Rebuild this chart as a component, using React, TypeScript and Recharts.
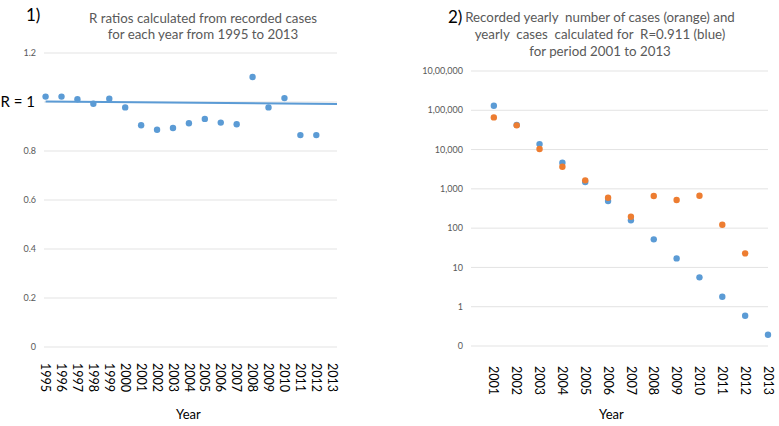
import React from 'react';
import {
  ScatterChart,
  Scatter,
  XAxis,
  YAxis,
  CartesianGrid,
} from 'recharts';

// panel 1: R ratios per year
const rYears = [1995, 1996, 1997, 1998, 1999, 2000, 2001, 2002, 2003, 2004, 2005, 2006, 2007, 2008, 2009, 2010, 2011, 2012];
const rValues = [1.022, 1.022, 1.011, 0.993, 1.013, 0.978, 0.905, 0.887, 0.894, 0.913, 0.931, 0.916, 0.909, 1.102, 0.978, 1.016, 0.865, 0.865];
const rLineYears = [1995, 2013.3];
const rLineValues = [1.002, 0.992];
const rTickYears = [1995, 1996, 1997, 1998, 1999, 2000, 2001, 2002, 2003, 2004, 2005, 2006, 2007, 2008, 2009, 2010, 2011, 2012, 2013];
const rTicks = [0, 0.2, 0.4, 0.6, 0.8, 1, 1.2];

// panel 2: yearly cases (log scale)
const caseYears = [2001, 2002, 2003, 2004, 2005, 2006, 2007, 2008, 2009, 2010, 2011, 2012, 2013];
const calculated = [130000, 42500, 13800, 4620, 1490, 490, 158, 51.8, 17.0, 5.59, 1.8, 0.59, 0.194];
const recorded = [65900, 41300, 10300, 3650, 1645, 594, 195, 656, 519, 668, 122, 22.8];
const caseTicks = [0.1, 1, 10, 100, 1000, 10000, 100000, 1000000];

const BLUE = '#5b9bd5';
const ORANGE = '#ed7d31';
const GREY = '#595959';
const FONT = 'Lato, "Open Sans", sans-serif';

const rData = rYears.map((year, i) => ({ year, r: rValues[i] }));
const rLine = rLineYears.map((year, i) => ({ year, r: rLineValues[i] }));
const calcData = caseYears.map((year, i) => ({ year, n: calculated[i] }));
const recData = recorded.map((n, i) => ({ year: caseYears[i], n }));

function indian(v: number) {
  if (v < 1) return '0';
  const s = String(Math.round(v));
  if (s.length <= 3) return s;
  const last = s.slice(-3);
  let rest = s.slice(0, -3);
  const parts: string[] = [];
  while (rest.length > 2) {
    parts.unshift(rest.slice(-2));
    rest = rest.slice(0, -2);
  }
  if (rest) parts.unshift(rest);
  return parts.join(',') + ',' + last;
}

const dot = (color: string) => (p: any) => (
  <circle cx={p.cx} cy={p.cy} r={3.2} fill={color} />
);

const YearTick = ({ x, y, payload }: any) => (
  <text
    x={x}
    y={y}
    dy="0.35em"
    transform={`rotate(90, ${x}, ${y})`}
    textAnchor="start"
    fontSize={12.5}
    fontFamily={FONT}
    fill="#000"
  >
    {payload.value}
  </text>
);

const RTick = ({ x, y, payload }: any) => {
  if (payload.value === 1) {
    return (
      <text x={x - 1} y={y} dy="0.35em" textAnchor="end" fontSize={15} fontFamily={FONT} fill="#000">
        R = 1
      </text>
    );
  }
  return (
    <text x={x} y={y} dy="0.35em" textAnchor="end" fontSize={9} fontFamily={FONT} fill={GREY}>
      {payload.value}
    </text>
  );
};

const txt = (left: number, top: number, size: number, color: string, width?: number): React.CSSProperties => ({
  position: 'absolute',
  left,
  top,
  width,
  fontSize: size,
  color,
  fontFamily: FONT,
  textAlign: width ? 'center' : 'left',
  whiteSpace: 'pre',
  lineHeight: 1,
});

export default function App() {
  return (
    <div style={{ position: 'absolute', left: 0, top: 0, width: 779, height: 426, background: '#fff' }}>
      <div style={{ position: 'absolute', left: 0, top: 0 }}>
        <ScatterChart width={390} height={426} margin={{ top: 53, right: 53, bottom: 0, left: 0 }}>
          <CartesianGrid horizontal vertical={false} stroke="#e3e3e3" />
          <XAxis
            type="number"
            dataKey="year"
            domain={[1994.9, 2013.3]}
            ticks={rTickYears}
            interval={0}
            height={79}
            axisLine={false}
            tickLine={false}
            tick={<YearTick />}
            tickMargin={10}
          />
          <YAxis
            type="number"
            dataKey="r"
            domain={[0, 1.2]}
            ticks={rTicks}
            interval={0}
            width={44}
            axisLine={false}
            tickLine={false}
            tick={<RTick />}
          />
          <Scatter data={rLine} line={{ stroke: BLUE, strokeWidth: 2 }} shape={() => <g />} isAnimationActive={false} />
          <Scatter data={rData} fill={BLUE} shape={dot(BLUE)} isAnimationActive={false} />
        </ScatterChart>
      </div>
      <div style={{ position: 'absolute', left: 390, top: 0 }}>
        <ScatterChart width={389} height={426} margin={{ top: 71, right: 11, bottom: 0, left: 1 }}>
          <CartesianGrid horizontal vertical={false} stroke="#e3e3e3" />
          <XAxis
            type="number"
            dataKey="year"
            domain={[2000, 2013]}
            ticks={caseYears}
            interval={0}
            height={80}
            axisLine={false}
            tickLine={false}
            tick={<YearTick />}
            tickMargin={14}
          />
          <YAxis
            type="number"
            dataKey="n"
            scale="log"
            domain={[0.1, 1000000]}
            ticks={caseTicks}
            interval={0}
            allowDataOverflow
            width={80}
            axisLine={false}
            tickLine={false}
            tickFormatter={indian}
            tick={{ fontSize: 9, fill: GREY, fontFamily: FONT }}
          />
          <Scatter data={calcData} fill={BLUE} shape={dot(BLUE)} isAnimationActive={false} />
          <Scatter data={recData} fill={ORANGE} shape={dot(ORANGE)} isAnimationActive={false} />
        </ScatterChart>
      </div>

      <div style={txt(26, 6, 17, '#000')}>1)</div>
      <div style={{ ...txt(43, 11, 13.3, GREY, 320), lineHeight: '15.5px' }}>
        {'R ratios calculated from recorded cases\nfor each year from 1995 to 2013'}
      </div>
      <div style={txt(176, 408, 13, '#000')}>Year</div>

      <div style={txt(448, 8, 17, '#000')}>2)</div>
      <div style={{ ...txt(430, 9, 13.3, GREY, 340), lineHeight: '17px' }}>
        {'Recorded yearly  number of cases (orange) and\nyearly  cases  calculated for  R=0.911 (blue)\nfor period 2001 to 2013'}
      </div>
      <div style={txt(599, 408, 13, '#000')}>Year</div>
    </div>
  );
}
